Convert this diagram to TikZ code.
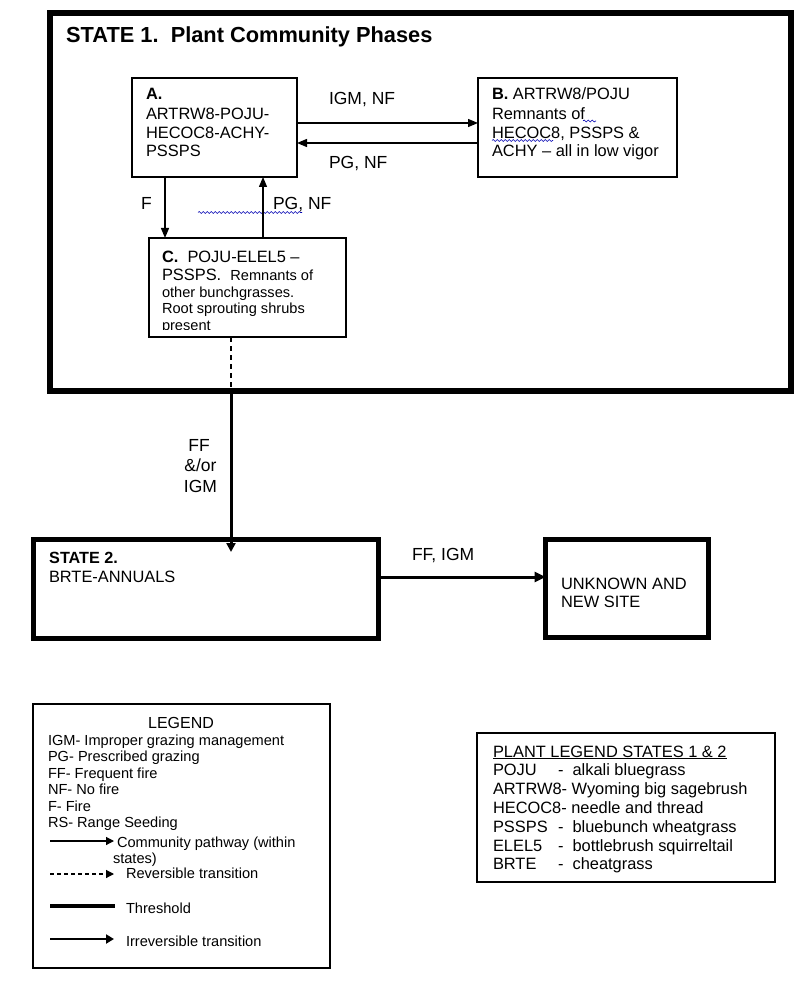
\documentclass[tikz,border=0pt]{standalone}
\usepackage{fontspec}
\setmainfont{Liberation Sans}
\usetikzlibrary{arrows.meta,decorations.pathmorphing}
\begin{document}
\begin{tikzpicture}[x=1pt,y=-1pt,
  >={Triangle[length=10pt,width=8pt]},
  txt/.style={anchor=base west, inner sep=0pt, outer sep=0pt, font=\fontsize{16.4}{19}\selectfont},
  sml/.style={anchor=base west, inner sep=0pt, outer sep=0pt, font=\fontsize{14.6}{17}\selectfont},
  lbl/.style={anchor=base west, inner sep=0pt, outer sep=0pt, font=\fontsize{17.5}{20}\selectfont},
  thinbox/.style={draw, line width=1.3pt, inner sep=0pt, outer sep=0pt, anchor=north west},
  statebox/.style={draw, line width=5pt, inner sep=0pt, outer sep=0pt, anchor=north west},
  pathway/.style={->, line width=1.3pt},
  spell/.style={draw=blue!70!black, line width=0.6pt, decorate, decoration={snake, segment length=4pt, amplitude=1pt}}
]
\useasboundingbox (0,0) rectangle (800,981);
\fill[white] (0,0) rectangle (800,981);

% ---------- State 1 ----------
\node[draw, line width=6pt, inner sep=0pt, outer sep=0pt, anchor=north west,
      minimum width=741pt, minimum height=378pt] (S1) at (50,13) {};
\node[anchor=base west, inner sep=0pt, font=\bfseries\fontsize{21.8}{24}\selectfont] (S1title) at (66,43) {STATE 1.\ \ Plant Community Phases};

% Box A
\node[thinbox, minimum width=165pt, minimum height=99pt] (A) at (132,78) {};
\node[txt] (a1) at (146,100) {\textbf{A.}};
\node[txt] (a2) at (146,120) {ARTRW8-POJU-};
\node[txt] (a3) at (146,138.5) {HECOC8-ACHY-};
\node[txt] (a4) at (146,157) {PSSPS};

% Box B
\node[thinbox, minimum width=199pt, minimum height=99pt] (B) at (478,78) {};
\node[txt] (b1) at (492,100) {\textbf{B.} ARTRW8/POJU};
\node[txt] (b2) at (492,120) {Remnants of};
\node[txt] (b3) at (492,138.5) {HECOC8, PSSPS \&};
\node[txt] (b4) at (492,157) {ACHY – all in low vigor};

% Box C
\node[thinbox, minimum width=197pt, minimum height=99pt] (C) at (149,238) {};
\begin{scope}
\clip (149,238) rectangle (346,329.5);
\node[txt] (c1) at (162,262) {\textbf{C.}\ \ POJU-ELEL5 –};
\node[txt] (c2) at (162,280) {PSSPS.\ \ {\fontsize{14.6}{17}\selectfont Remnants of}};
\node[sml] (c3) at (162,297) {other bunchgrasses.};
\node[sml] (c4) at (162,313.5) {Root sprouting shrubs};
\node[sml] (c5) at (162,330) {present};
\end{scope}

% spell-check underlines
\draw[spell] (583,121) -- (596,121);
\draw[spell] (492,140.5) -- (553,140.5);
\draw[spell] (198,212.5) -- (302,212.5);

% pathways within state 1
\draw[pathway] ([yshift=-45pt]A.north east) -- ([yshift=-45pt]B.north west);
\draw[pathway] ([yshift=-65pt]B.north west) -- ([yshift=-65pt]A.north east);
\draw[pathway] ([xshift=33pt]A.south west) -- ([xshift=16pt]C.north west);
\draw[pathway] ([xshift=114pt]C.north west) -- ([xshift=131pt]A.south west);
\node[lbl] (l1) at (329,105) {IGM, NF};
\node[lbl] (l2) at (329,169) {PG, NF};
\node[lbl] (l3) at (141,210) {F};
\node[lbl] (l4) at (273,210) {PG, NF};

% ---------- transition to State 2 ----------
\node[statebox, minimum width=345pt, minimum height=99pt] (S2) at (33.5,539.5) {};
\node[statebox, minimum width=163pt, minimum height=98pt] (U) at (545.5,539.5) {};
\coordinate (brk) at (231,391);
\coordinate (s2in) at (231,552);
\draw[line width=1.3pt, dash pattern=on 5pt off 4pt] ([xshift=82pt]C.south west) -- (brk);
\draw[line width=3pt, -{Triangle[length=9pt,width=9pt]}] (brk) -- (s2in);
\node[anchor=base, inner sep=0pt, font=\fontsize{17.5}{20}\selectfont] (t1) at (199,451) {FF};
\node[anchor=base, inner sep=0pt, font=\fontsize{17.5}{20}\selectfont] (t2) at (200.5,471.5) {\&/or};
\node[anchor=base, inner sep=0pt, font=\fontsize{17.5}{20}\selectfont] (t3) at (200.5,492) {IGM};

\node[anchor=base west, inner sep=0pt, font=\bfseries\fontsize{16.2}{19}\selectfont] (s2a) at (49,563) {STATE 2.};
\node[txt] (s2b) at (49,582) {BRTE-ANNUALS};

\draw[line width=3pt, -{Triangle[length=11pt,width=10pt]}] ([yshift=-37.5pt]S2.north east) -- ([yshift=-37.5pt]U.north west);
\node[lbl] (t4) at (412,560) {FF, IGM};
\node[txt] (u1) at (561,589) {UNKNOWN AND};
\node[txt] (u2) at (561,607) {NEW SITE};

% ---------- Legend ----------
\node[thinbox, minimum width=297pt, minimum height=264pt] (LG) at (33,704) {};
\node[anchor=base, inner sep=0pt, font=\fontsize{16}{19}\selectfont] (lgt) at (181,728) {LEGEND};
\node[sml] (lg1) at (48,745) {IGM- Improper grazing management};
\node[sml] (lg2) at (48,761.5) {PG- Prescribed grazing};
\node[sml] (lg3) at (48,778) {FF- Frequent fire};
\node[sml] (lg4) at (48,794.5) {NF- No fire};
\node[sml] (lg5) at (48,811) {F- Fire};
\node[sml] (lg6) at (48,827.5) {RS- Range Seeding};
\coordinate (k1a) at (50,841); \coordinate (k1b) at (114,841);
\coordinate (k2a) at (50,874); \coordinate (k2b) at (114,874);
\coordinate (k3a) at (50,906); \coordinate (k3b) at (115,906);
\coordinate (k4a) at (50,939); \coordinate (k4b) at (114,939);
\draw[line width=1.2pt, -{Triangle[length=8pt,width=8pt]}] (k1a) -- (k1b);
\draw[line width=1.2pt, dash pattern=on 4pt off 3pt, -{Triangle[length=8pt,width=8pt]}] (k2a) -- (k2b);
\draw[line width=4.5pt] (k3a) -- (k3b);
\draw[line width=2.6pt, -{Triangle[length=8pt,width=9pt]}] (k4a) -- (k4b);
\node[sml] (lg7) at (117,847) {Community pathway (within};
\node[sml] (lg8) at (113,863.5) {states)};
\node[sml] (lg9) at (126,878) {Reversible transition};
\node[sml] (lg10) at (126,913) {Threshold};
\node[sml] (lg11) at (126,946) {Irreversible transition};

% ---------- Plant legend ----------
\node[thinbox, line width=1.5pt, minimum width=298pt, minimum height=149pt] (PL) at (477,733) {};
\node[txt] (p0) at (493,757) {\underline{PLANT LEGEND STATES 1 \& 2}};
\node[txt] (p1) at (493,775.5) {POJU};
\node[txt] (p1d) at (558,775.5) {-\ \ alkali bluegrass};
\node[txt] (p2) at (493,794) {ARTRW8- Wyoming big sagebrush};
\node[txt] (p3) at (493,813) {HECOC8- needle and thread};
\node[txt] (p4) at (493,832) {PSSPS};
\node[txt] (p4d) at (558,832) {-\ \ bluebunch wheatgrass};
\node[txt] (p5) at (493,851) {ELEL5};
\node[txt] (p5d) at (558,851) {-\ \ bottlebrush squirreltail};
\node[txt] (p6) at (493,869.5) {BRTE};
\node[txt] (p6d) at (558,869.5) {-\ \ cheatgrass};
\end{tikzpicture}
\end{document}
